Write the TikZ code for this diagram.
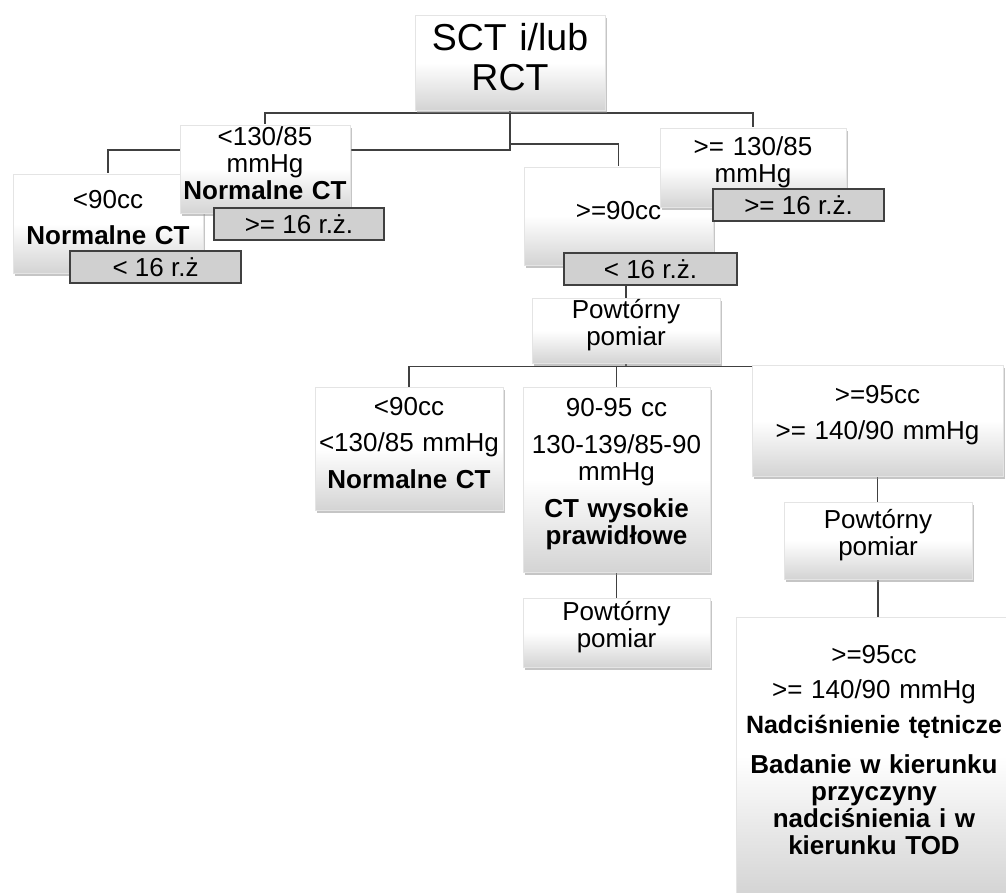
\documentclass[tikz,border=0pt]{standalone}
\usepackage{fontspec}
\setmainfont{Liberation Sans}
\usetikzlibrary{shadows, backgrounds}
\definecolor{linegray}{RGB}{64,64,64}
\definecolor{taggray}{RGB}{208,208,208}
\definecolor{boxedge}{RGB}{228,228,228}

\begin{document}
\begin{tikzpicture}[x=1pt, y=-1pt]
    \tikzset{
        box/.style={draw=boxedge, top color=white, bottom color=black!17, middle color=white,
            drop shadow={shadow xshift=2pt, shadow yshift=-3pt, opacity=0.5, fill=black!45},
            inner sep=0pt, align=center, font=\fontsize{26}{27}\selectfont,
            execute at end node={\par\vspace*{11pt}}},
        tag/.style={draw=linegray, fill=taggray, line width=1.2pt, inner sep=0pt,
            minimum height=32pt, font=\fontsize{26}{27}\selectfont},
        conn/.style={draw=linegray, line width=1.4pt}
    }
    \useasboundingbox (0,0) rectangle (1006,893);
    \clip (0,0) rectangle (1006,893);

    % first row
    \node[box, minimum width=190pt, minimum height=95pt, text width=186pt,
        font=\fontsize{37.5}{40}\selectfont] (root) at (510,62.5) {SCT i/lub\\RCT};
    \node[box, minimum width=190pt, minimum height=99pt, text width=186pt] (volLow) at (108,223.5)
        {<90cc\\[9pt]\textbf{Normalne CT}};
    \node[box, minimum width=189pt, minimum height=98pt, text width=185pt] (volHigh) at (618.5,216)
        {>=90cc};
    \node[box, minimum width=170pt, minimum height=88pt, text width=168pt] (bpLow) at (265,169)
        {<130/85\\mmHg\\\textbf{Normalne CT}};
    \node[box, minimum width=186pt, minimum height=79pt, text width=182pt] (bpHigh) at (753,167.5)
        {>= 130/85\\mmHg};

    % age tags
    \node[tag, minimum width=170pt] (tagBpLow) at (299,224) {>= 16 r.ż.};
    \node[tag, minimum width=171pt] (tagVolLow) at (155.5,267) {< 16 r.ż};
    \node[tag, minimum width=173pt] (tagVolHigh) at (650.5,269) {< 16 r.ż.};
    \node[tag, minimum width=171pt] (tagBpHigh) at (798.5,205) {>= 16 r.ż.};

    % repeated measurement
    \node[box, minimum width=188pt, minimum height=65pt, text width=184pt] (rep1) at (626,330.5)
        {Powtórny\\pomiar};
    \node[box, minimum width=188pt, minimum height=123pt, text width=186pt] (normal) at (409,448.5)
        {<90cc\\[9pt]<130/85 mmHg\\[10pt]\textbf{Normalne CT}};
    \node[box, minimum width=187pt, minimum height=185pt, text width=185pt] (highNormal) at (616.5,479.5)
        {90-95 cc\\[10pt]130-139/85-90\\mmHg\\[10pt]\textbf{CT wysokie}\\\textbf{prawidłowe}};
    \node[box, minimum width=251pt, minimum height=111pt, text width=247pt] (hyper) at (877.5,420.5)
        {>=95cc\\[9pt]>= 140/90 mmHg};
    \node[box, minimum width=187pt, minimum height=69pt, text width=183pt] (rep2) at (616.5,632.5)
        {Powtórny\\pomiar};
    \node[box, minimum width=188pt, minimum height=77pt, text width=184pt] (rep3) at (878,540.5)
        {Powtórny\\pomiar};
    \node[box, minimum width=276pt, minimum height=278pt, text width=272pt] (final) at (874,756)
        {>=95cc\\[8pt]>= 140/90 mmHg\\[8pt]{\fontsize{25}{27}\selectfont\textbf{Nadciśnienie tętnicze}}\\[13pt]%
         \textbf{Badanie w kierunku}\\\textbf{przyczyny}\\\textbf{nadciśnienia i w}\\%
         \textbf{kierunku TOD}};

    \begin{scope}[on background layer]
        \fill[white] (0,0) rectangle (1006,893);
        \draw[conn] (root.south) -- ++(0,3) -| (bpLow.north);
        \draw[conn] (root.south) -- ++(0,3) -| (bpHigh.north);
        \draw[conn] (root.south) -- ++(0,40) -| (volLow.north);
        \draw[conn] (root.south) -- ++(0,34) -| (volHigh.north);
        \draw[conn] (rep1.north) -- (rep1.north |- volHigh.south);
        \draw[conn] (rep1.south) -- ++(0,3) -| (normal.north);
        \draw[conn] (rep1.south) -- ++(0,3) -| (highNormal.north);
        \draw[conn] (rep1.south) -- ++(0,3) -| (hyper.north);
        \draw[conn] (highNormal.south) -- (rep2.north);
        \draw[conn] (hyper.south) -- (hyper.south |- rep3.north);
        \draw[conn] (rep3.south) -- (rep3.south |- final.north);
    \end{scope}
\end{tikzpicture}
\end{document}
